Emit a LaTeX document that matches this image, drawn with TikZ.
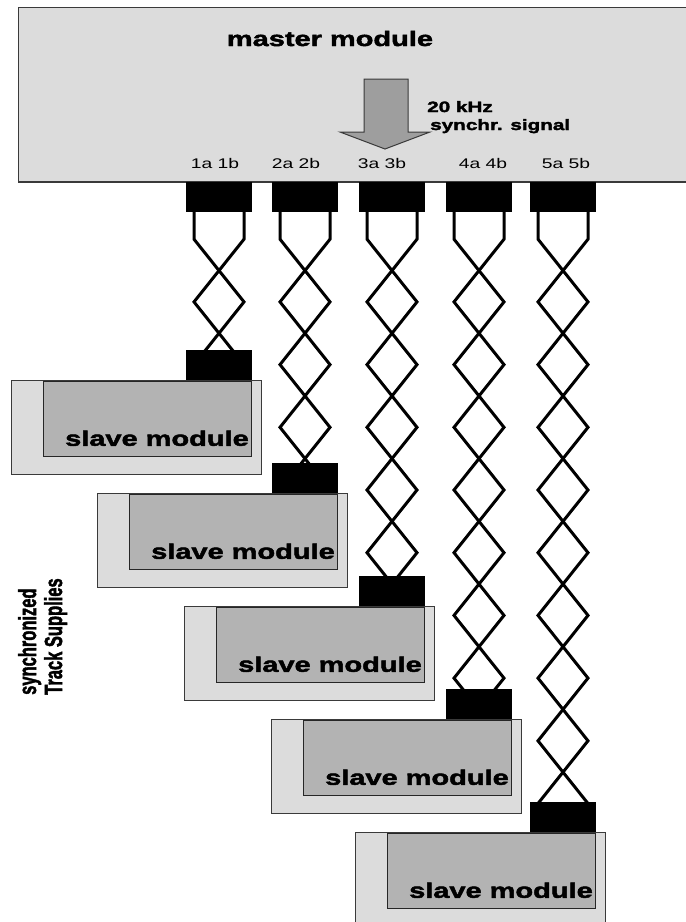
\documentclass[tikz,border=0pt]{standalone}
\usepackage{graphicx}
\usepackage{fontspec}
\setmainfont{Liberation Sans}[BoldFeatures={FakeBold=2.2}]
\newfontfamily\widesans{Liberation Sans}[FakeStretch=1.38,BoldFeatures={FakeBold=2.2}]
\usetikzlibrary{positioning}
\definecolor{casegray}{HTML}{DCDCDC}
\definecolor{boardgray}{HTML}{B3B3B3}
\definecolor{arrowgray}{HTML}{9E9E9E}
\definecolor{edgegray}{HTML}{3A3A3A}
\newcommand{\tallword}[1]{\scalebox{1}[1.5]{#1}}
\tikzset{
  plug/.style={fill=black,inner sep=0pt,minimum width=66pt,minimum height=30pt},
  slavecase/.style={fill=casegray,draw=edgegray,line width=1.2pt,inner sep=0pt,minimum width=250pt,minimum height=94pt},
  slaveboard/.style={fill=boardgray,draw=black!85,line width=1.2pt,inner sep=0pt,minimum width=208pt,minimum height=75pt},
  wire/.style={line width=3pt},
  bigtext/.style={font=\widesans\bfseries\fontsize{21}{25}\selectfont,inner sep=0pt},
  sigtext/.style={font=\widesans\bfseries\fontsize{15}{18}\selectfont,inner sep=0pt},
  plugtext/.style={font=\widesans\fontsize{14}{17}\selectfont,inner sep=0pt},
  sidetext/.style={font=\bfseries\fontsize{16.5}{20}\selectfont,inner sep=0pt,rotate=90,anchor=base west},
}
\begin{document}
\begin{tikzpicture}[x=1pt,y=-1pt]
\useasboundingbox (0,0) rectangle (686,922);
% master module
\fill[casegray] (18,7) rectangle (690,182);
\draw[edgegray,line width=1pt] (690,7) -- (18,7) -- (18,182);
\draw[edgegray,line width=2pt] (18,182) -- (690,182);
\node[bigtext,anchor=base] (mtitle) at (330,46) {master module};
% sync arrow
\draw[fill=arrowgray,draw=edgegray,line width=1pt] (364,79) -- (408,79) -- (408,132) -- (430,132) -- (385,149) -- (340,132) -- (364,132) -- cycle;
\node[sigtext,anchor=base west] (sig1) at (427,112) {20 kHz};
\node[sigtext,anchor=base west] (sig2) at (430,130) {synchr. signal};
% plugs, slaves and cables
\foreach \n/\x/\lx in {1/219/215,2/305/296,3/392/382,4/479/483,5/563/566}{
  \node[plug] (mc\n) at (\x,197) {};
  \node[plugtext,anchor=base] (lab\n) at (\lx,168) {\n a \n b};
  \node[slavecase,anchor=north east] (case\n) at ({\x+43},{380+113*(\n-1)}) {};
  \node[slaveboard,below left=1pt and 10pt of case\n.north east] (board\n) {};
  \node[plug,above left=0pt and 10pt of case\n.north east] (sc\n) {};
  \node[bigtext,above left=11pt and 3pt of board\n.south east] (txt\n) {slave module};
  \begin{scope}
    \clip (mc\n.south west) rectangle (sc\n.north east);
    \begin{scope}[shift={(mc\n.south)}]
      \draw[wire] (-25,0) -- (-25,27) \foreach \i in {1,...,10}{ -- ({25*cos(180*(\i+1))},{27+62.7*\i}) };
      \draw[wire] (25,0) -- (25,27) \foreach \i in {1,...,10}{ -- ({-25*cos(180*(\i+1))},{27+62.7*\i}) };
    \end{scope}
  \end{scope}
}
% side caption
\node[sidetext] (side1) at (36,695) {\tallword{synchronized}};
\node[sidetext] (side2) at (62,695) {\tallword{Track Supplies}};
\end{tikzpicture}
\end{document}
